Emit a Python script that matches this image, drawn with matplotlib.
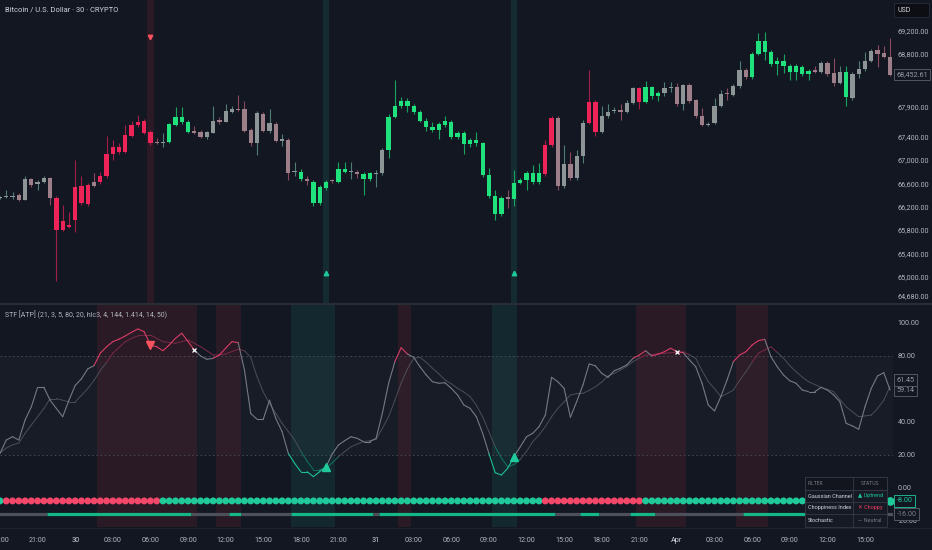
import numpy as np
import pandas as pd
import matplotlib
matplotlib.use("Agg")
import matplotlib.pyplot as plt
from matplotlib.collections import LineCollection
from matplotlib.patches import Rectangle
import matplotlib.transforms as mtransforms

plt.rcParams['font.family'] = ['Roboto', 'DejaVu Sans']

# ---------------- data ----------------
symbol_title = "Bitcoin / U.S. Dollar · 30 · CRYPTO"
indicator_title = "STF [ATP] (21, 3, 5, 80, 20, hlc3, 4, 144, 1.414, 14, 50)"
currency = "USD"
start_time = "2024-03-29 18:00"

opens = [
    66339, 66356, 66356, 66390, 66313, 66671, 66581, 66615, 66688, 66352, 65955, 65887,
    66540, 66552, 66569, 66620, 66722, 67098, 67212, 67222, 67422, 67592, 67648, 67660,
    67478, 67294, 67280, 67297, 67592, 67638, 67648, 67495, 67478, 67393, 67461, 67677,
    67648, 67819, 67865, 67860, 67507, 67280, 67780, 67495, 67609, 67324, 67336, 66786,
    66796, 66671, 66625, 66267, 66513, 66646, 66615, 66786, 66786, 66796, 66757, 66671,
    66763, 66769, 67166, 67734, 67916, 68001, 67916, 67809, 67665, 67563, 67507, 67592,
    67648, 67382, 67461, 67268, 67336, 67280, 66740, 66381, 66075, 66359, 66325, 66608,
    66654, 66769, 66615, 66757, 67251, 67706, 66552, 66922, 66683, 67064, 67631, 67989,
    67478, 67745, 67827, 67848, 67819, 67962, 68218, 67989, 68235, 68092, 68132, 68230,
    68245, 67950, 68274, 68018, 67745, 67592, 67621, 67916, 68138, 68104, 68257, 68530,
    68405, 68803, 69030, 68832, 68632, 68683, 68603, 68491, 68586, 68462, 68530, 68501,
    68654, 68474, 68313, 68501, 68047, 68462, 68542, 68688, 68871, 68815, 68757]
highs = [
    66381, 66492, 66450, 66432, 66727, 66688, 66654, 66722, 66705, 66381, 66228, 66109,
    66995, 66722, 66603, 66779, 66791, 67404, 67336, 67285, 67592, 67660, 67763, 67694,
    67507, 67370, 67451, 67626, 67894, 67899, 67677, 67575, 67507, 67490, 67916, 67728,
    67950, 67916, 68104, 68006, 67541, 67831, 67814, 67865, 67643, 67439, 67370, 66961,
    66842, 66722, 66654, 66569, 66654, 66671, 66961, 66966, 66966, 66825, 66791, 66791,
    66825, 67200, 67780, 68359, 68070, 68052, 67950, 67848, 67711, 67643, 67643, 67745,
    67677, 67490, 67490, 67370, 67473, 67302, 66859, 66484, 66381, 66484, 66825, 66688,
    66808, 66910, 66944, 67336, 67745, 67745, 67251, 67132, 67166, 67677, 68530, 68018,
    67916, 67950, 67899, 67950, 68018, 68240, 68240, 68342, 68257, 68172, 68325, 68325,
    68308, 68291, 68308, 68035, 67882, 67643, 68052, 68189, 68223, 68291, 68683, 68564,
    68837, 69156, 69183, 68871, 68751, 68803, 68632, 68632, 68615, 68547, 68598, 68683,
    68683, 68734, 68598, 68598, 68496, 68683, 68837, 68888, 68956, 68939, 69081]
lows = [
    66330, 66347, 66330, 66296, 66305, 66535, 66484, 66603, 66228, 64937, 65785, 65836,
    65773, 66228, 66211, 66535, 66586, 66688, 66995, 67098, 67115, 67387, 67558, 67439,
    67251, 67268, 67212, 67285, 67575, 67609, 67456, 67439, 67370, 67353, 67456, 67609,
    67643, 67797, 67831, 67473, 67234, 67081, 67473, 67456, 67302, 67234, 66654, 66722,
    66637, 66569, 66211, 66228, 66484, 66603, 66603, 66774, 66666, 66688, 66399, 66637,
    66530, 66740, 67029, 67711, 67882, 67814, 67780, 67643, 67490, 67473, 67353, 67558,
    67353, 67353, 67098, 67217, 67234, 66705, 66347, 65972, 66040, 66177, 66211, 66586,
    66484, 66586, 66586, 66722, 67217, 66484, 66518, 66654, 66654, 66944, 67609, 67404,
    67456, 67711, 67797, 67677, 67797, 67950, 67865, 67967, 68035, 68001, 68087, 68155,
    67916, 67848, 67967, 67711, 67575, 67575, 67609, 67899, 68018, 68087, 68223, 68376,
    68376, 68786, 68700, 68598, 68445, 68479, 68359, 68359, 68428, 68359, 68479, 68479,
    68428, 68257, 68291, 67916, 68018, 68393, 68513, 68666, 68581, 68734, 68428]
closes = [
    66364, 66381, 66373, 66313, 66671, 66569, 66615, 66683, 66347, 65802, 65802, 65853,
    65972, 66257, 66245, 66557, 66615, 66722, 67098, 67127, 67137, 67410, 67592, 67461,
    67280, 67277, 67307, 67604, 67734, 67734, 67478, 67461, 67393, 67468, 67660, 67648,
    67831, 67865, 67848, 67495, 67280, 67792, 67495, 67621, 67324, 67348, 66779, 66813,
    66671, 66637, 66267, 66530, 66625, 66629, 66837, 66837, 66808, 66752, 66671, 66769,
    66774, 67166, 67734, 67916, 68001, 67916, 67809, 67665, 67563, 67507, 67604, 67660,
    67382, 67461, 67268, 67336, 67280, 66740, 66381, 66075, 66342, 66335, 66608, 66654,
    66769, 66615, 66769, 67251, 67706, 66552, 66922, 66683, 67064, 67631, 67989, 67478,
    67745, 67819, 67841, 67819, 67972, 68218, 67989, 68235, 68087, 68132, 68228, 68240,
    67950, 68274, 68001, 67745, 67592, 67609, 67916, 68121, 68127, 68257, 68530, 68405,
    68803, 69030, 68842, 68632, 68683, 68598, 68501, 68603, 68462, 68518, 68501, 68654,
    68462, 68313, 68501, 68064, 68462, 68542, 68688, 68859, 68803, 68757, 68452.61]
# G strong up, R strong down, u neutral up, d neutral down
candle_state = ("uuududuudRRR" "RRRdRRRRRRRR" "RduGGGGdduud" "uudddududu du".replace(" ", "") +
                "GdGGGdGGudGG" "uuGGGGGGGGGG" "GGGGGGGGGdGG" "GGGRRduduuRR" "uuuduuRGGGuu" +
                "duddduuuduud" "GGGGGGGGGGdu" "dduGuuuuddd")

stoch_k = [
    20.8, 28.9, 30.9, 28.9, 41, 49, 60.8, 60.8, 53, 48, 43, 53,
    62, 66, 72, 74, 81.5, 85.4, 88.5, 90, 92, 94.2, 96.2, 94.5,
    86.5, 85.4, 83, 86.5, 90.5, 93.6, 88.5, 83.5, 79.8, 77.8, 78.4, 80.4,
    84.5, 88.5, 87.9, 71.3, 45, 41.5, 41.5, 53, 42, 34, 20.8, 14.8,
    9.7, 9.7, 6.7, 9.7, 12.7, 20.4, 25.9, 28.5, 30.9, 29.9, 27.9, 27.9,
    29.9, 45, 63.3, 76.4, 84.8, 81, 79, 73.3, 68.3, 64.2, 63.3, 63.6,
    60.2, 56.2, 50.1, 48.1, 43, 33, 20.8, 9.1, 7.7, 11.8, 18.8, 24.8,
    30.9, 33, 37, 44, 66.9, 64.2, 60.2, 42.7, 52.1, 62.2, 75, 73.8,
    69.3, 66.9, 70.9, 72.4, 74.4, 78.4, 80.4, 83, 79.8, 81, 82.4, 84.5,
    82.4, 81.8, 77.4, 73.3, 63.3, 50.1, 46.5, 55.2, 65.3, 76.4, 80.4, 82.4,
    86.5, 89.1, 89.9, 79.4, 73.3, 68.3, 64.8, 63.3, 59.2, 58.2, 58.2, 60.8,
    59.2, 56.2, 52.1, 39, 37.4, 35.4, 49, 60.2, 67.7, 69.7, 59.14]
stoch_d = [
    21, 24, 26, 27, 33, 38, 43, 48, 54, 54, 53, 52,
    52, 56, 60, 65, 71, 76, 81.5, 85, 88.5, 90.5, 92, 92.5,
    92.5, 90.5, 88.5, 88, 87.5, 88.5, 89.5, 87.5, 85.4, 83, 80.4, 80.5,
    81, 82.5, 83.9, 83, 79, 67.3, 58, 51, 45, 39, 34, 29,
    22, 16, 11, 11, 12, 15, 18.8, 22, 24.8, 26.5, 27.9, 28.5,
    29.3, 36, 43, 53, 63.3, 72, 78.4, 79, 76, 72.4, 69, 65.3,
    63, 60.2, 58, 55.2, 50, 43, 34, 24.8, 18, 12.7, 14, 17.2,
    22, 27.9, 32, 37, 43, 48.1, 52, 56.2, 57, 57.2, 59, 61.2,
    64, 67.7, 69.3, 71.3, 73.5, 76.4, 78.5, 80.4, 80.7, 81, 81.4, 81.8,
    82.1, 82.4, 80.5, 78.4, 71, 64.2, 60, 55.2, 57, 59.2, 65, 70.3,
    76, 81.5, 83.5, 85.4, 82, 78.4, 74, 70.3, 67, 64.2, 62.5, 60.8,
    59.5, 58.2, 53.5, 49, 46, 43, 43.5, 44, 48, 53, 61.45]

trend_state = ("GRRRRRRRRRRR" "RRRRRRRRRRRR" "RRGGGGGGGGGG" "GGGGGGGGGGGG" "GGGGGGGGGGGG" +
               "GGGGGGGGGGGG" "GGGGGGGGGGGG" "GGGRRRRRRRRR" "RRRRRRRGGGGG" "GGGGGGGGGGGG" +
               "GGGGGGGGGGGG" "GGGGGGGGGGG")
filter_state = ("NNNNNNNNTTTT" "TTTTTTTTTTTT" "TTTTTTTNNNNN" "NTTNNNNNNNNT" "TTTTTTTTTTTT" +
                "NTTTTTTTTTTT" "TTTTTTTTTTTT" "TTTTTNNNNTTT" "NNNNNTTTTNNN" "NNNNNNNNNNNT" +
                "TTTTTTTTTTTT" "TTTTTTTTNNN")

ob_zones = [(16, 31), (35, 38), (64, 65), (102, 109), (118, 122)]
os_zones = [(47, 53), (79, 82)]
sell_signals = [24]
buy_signals = [52, 82]
exit_signals = [31, 108]

price_ticks = [69200, 68800, 67900, 67400, 67000, 66600, 66200, 65800, 65400, 65000, 64680]
osc_ticks = [100, 80, 40, 20, 0, -20]
ob_level, os_level = 80, 20
dot_level, bar_level = -8, -16

table_header = ("FILTER", "STATUS")
table_rows = [("Gaussian Channel", "▲ Uptrend", "up"),
              ("Choppiness Index", "✕ Choppy", "down"),
              ("Stochastic", "— Neutral", "flat")]

# ---------------- style ----------------
BG = '#131722'
TXT = '#b2b5be'
GRN = '#1fc99a'
PINK = '#f23d5e'
body_col = {'G': '#20e27d', 'R': '#ee2459', 'u': '#8e9597', 'd': '#9c7f89'}
wick_col = {'G': '#17a45e', 'R': '#a31d47', 'u': '#4f7d76', 'd': '#8a4a5e'}

W, H = 932, 550
fig = plt.figure(figsize=(W / 100, H / 100), dpi=100)
fig.patch.set_facecolor(BG)

plot_w = 893
ax1 = fig.add_axes([0, 1 - 303 / H, plot_w / W, 303 / H])
ax2 = fig.add_axes([0, 1 - 527 / H, plot_w / W, 222 / H])
for ax in (ax1, ax2):
    ax.set_facecolor(BG)
    for s in ax.spines.values():
        s.set_visible(False)

n = len(closes)
x = np.arange(n)
o = np.array(opens, float); hi = np.array(highs, float)
lo = np.array(lows, float); c = np.array(closes, float)
xmax = plot_w / 6.268

# ---- price pane ----
ax1.set_xlim(0, xmax)
ax1.set_ylim(64557, 69723)
for i in sell_signals:
    ax1.axvspan(i - 0.5, i + 0.5, color='#f23645', alpha=0.11, lw=0, zorder=0)
for i in buy_signals:
    ax1.axvspan(i - 0.5, i + 0.5, color='#22ab94', alpha=0.14, lw=0, zorder=0)
ax1.vlines(x, lo, hi, colors=[wick_col[s] for s in candle_state], lw=0.8, zorder=2)
body_lo = np.minimum(o, c)
body_h = np.maximum(np.abs(c - o), 14)
ax1.bar(x, body_h, bottom=body_lo, width=0.68, color=[body_col[s] for s in candle_state],
        linewidth=0, zorder=3)
tr1 = mtransforms.blended_transform_factory(ax1.transData, ax1.transAxes)
ax1.plot(sell_signals, [0.878] * len(sell_signals), 'v', color='#f7525f', ms=3.2,
         transform=tr1, zorder=4)
ax1.plot(buy_signals, [0.099] * len(buy_signals), '^', color=GRN, ms=3.2,
         transform=tr1, zorder=4)
ax1.yaxis.tick_right()
ax1.set_yticks(price_ticks)
ax1.set_yticklabels([f"{v:,.2f}" for v in price_ticks])
ax1.tick_params(axis='y', length=0, pad=3.5, labelsize=5.2, labelcolor=TXT)
ax1.tick_params(axis='x', length=0, labelbottom=False)
trp = mtransforms.blended_transform_factory(ax1.transAxes, ax1.transData)
ax1.text(1.004, c[-1], f"{c[-1]:,.2f}", transform=trp, fontsize=5.2, color='#9598a1',
         va='center', ha='left', clip_on=False, zorder=6,
         bbox=dict(boxstyle='square,pad=0.3', fc=BG, ec='#5d606b', lw=0.6))

# ---- oscillator pane ----
ax2.set_xlim(0, xmax)
ax2.set_ylim(-23.8, 110.7)
ax2.axhspan(os_level, ob_level, color='#787b86', alpha=0.05, lw=0, zorder=0)
for a, b in ob_zones:
    ax2.axvspan(a - 0.5, b + 0.5, color='#f23645', alpha=0.10, lw=0, zorder=0)
for a, b in os_zones:
    ax2.axvspan(a - 0.5, b + 0.5, color='#22ab94', alpha=0.12, lw=0, zorder=0)
for lvl in (ob_level, os_level):
    ax2.axhline(lvl, color='#4a4e5a', lw=0.6, ls=(0, (2, 3)), zorder=1)


def colored_line(vals, base, up, dn, lw, z):
    v = np.array(vals, float)
    pts = np.column_stack([x, v])
    segs = np.stack([pts[:-1], pts[1:]], axis=1)
    cols = [up if e > ob_level else dn if e < os_level else base for e in v[1:]]
    ax2.add_collection(LineCollection(segs, colors=cols, linewidths=lw,
                                      capstyle='round', joinstyle='round', zorder=z))


colored_line(stoch_d, '#4b4e59', '#7a2a47', '#137564', 0.7, 2)
colored_line(stoch_k, '#767984', '#d83c66', '#1fbf94', 0.8, 3)

k_arr = np.array(stoch_k)
ax2.plot(sell_signals, k_arr[sell_signals], 'v', color='#f7525f', ms=5.5, zorder=5)
ax2.plot(buy_signals, k_arr[buy_signals], '^', color=GRN, ms=5.5, zorder=5)
ax2.plot(exit_signals, k_arr[exit_signals], 'x', color='white', ms=3.5, mew=0.9, zorder=5)

dot_cols = [GRN if s == 'G' else '#f4476a' for s in trend_state]
ax2.scatter(x, [dot_level] * n, c=dot_cols, s=25, linewidths=0, zorder=4)
ax2.scatter([x[-1]], [dot_level], c=[dot_cols[-1]], s=38, linewidths=0, zorder=4, clip_on=False)

# filter bar: merge consecutive equal states into continuous runs
runs = []
start = 0
for i in range(1, n + 1):
    if i == n or filter_state[i] != filter_state[start]:
        runs.append((start, i - 1, filter_state[start]))
        start = i
bsegs = [[(a - 0.5, bar_level), (b + 0.5, bar_level)] for a, b, s in runs]
bcols = ['#14b886' if s == 'T' else '#4d505a' for a, b, s in runs]
ax2.add_collection(LineCollection(bsegs, colors=bcols, linewidths=2.3, capstyle='butt', zorder=3))

ax2.yaxis.tick_right()
ax2.set_yticks(osc_ticks)
ax2.set_yticklabels([f"{v:.2f}" for v in osc_ticks])
ax2.tick_params(axis='y', length=0, pad=3.5, labelsize=5.2, labelcolor=TXT)

times = pd.date_range(start_time, periods=n, freq='30min')
tick_idx = [i for i, t in enumerate(times) if t.minute == 0 and t.hour % 3 == 0]
tick_lab = []
for i in tick_idx:
    t = times[i]
    if t.hour == 0:
        tick_lab.append(t.strftime('%b') if t.day == 1 else str(t.day))
    else:
        tick_lab.append(t.strftime('%H:%M'))
ax2.set_xticks(tick_idx)
ax2.set_xticklabels(tick_lab)
ax2.tick_params(axis='x', length=0, pad=7.5, labelsize=5.2, labelcolor=TXT)
for lab, t in zip(ax2.get_xticklabels(), [times[i] for i in tick_idx]):
    if t.hour == 0:
        lab.set_color('#d1d4dc')

tro = mtransforms.blended_transform_factory(ax2.transAxes, ax2.transData)
kd_lo = min(stoch_k[-1], stoch_d[-1])
lab_vals = sorted([stoch_k[-1], stoch_d[-1]])
for j, v in enumerate(lab_vals):
    ax2.text(1.004, kd_lo + 6.1 * j, f"{v:.2f}", transform=tro, fontsize=5.2, color='#9598a1',
             va='center', ha='left', clip_on=False, zorder=6,
             bbox=dict(boxstyle='square,pad=0.3', fc=BG, ec='#5d606b', lw=0.6))
ax2.text(1.004, dot_level, f"{dot_level:.2f}", transform=tro, fontsize=5.2, color=GRN,
         va='center', ha='left', clip_on=False, zorder=6,
         bbox=dict(boxstyle='square,pad=0.3', fc=BG, ec=GRN, lw=0.6))
ax2.text(1.004, bar_level, f"{bar_level:.2f}", transform=tro, fontsize=5.2, color='#787b86',
         va='center', ha='left', clip_on=False, zorder=6,
         bbox=dict(boxstyle='square,pad=0.3', fc=BG, ec='#5d606b', lw=0.6))

# ---- overlay (titles, separators, table) ----
ov = fig.add_axes([0, 0, 1, 1], zorder=10)
ov.set_xlim(0, W); ov.set_ylim(H, 0); ov.axis('off'); ov.patch.set_alpha(0)
ov.plot([0, W], [304, 304], color='#2a2e39', lw=1.4)
ov.plot([0, W], [527.5, 527.5], color='#1e222d', lw=0.8)
ov.text(5, 10, symbol_title, fontsize=5.4, color='#d1d4dc', va='center', ha='left')
ov.text(5, 315, indicator_title, fontsize=5.0, color=TXT, va='center', ha='left')
ov.add_patch(Rectangle((894, 3), 35, 14, fc='#0c0e14', ec='#2a2e39', lw=0.6))
ov.text(897.5, 10, currency, fontsize=5.0, color='#d1d4dc', va='center', ha='left')

tx0, tx1, tcol = 805, 887, 853
ty = [477, 490, 502, 514, 527]
ov.add_patch(Rectangle((tx0, ty[0]), tx1 - tx0, ty[-1] - ty[0], fc='#161a25', ec='#363a45', lw=0.6, zorder=1))
ov.add_patch(Rectangle((tx0, ty[0]), tx1 - tx0, ty[1] - ty[0], fc='#12151e', ec='#363a45', lw=0.6, zorder=1))
for yy in ty[1:-1]:
    ov.plot([tx0, tx1], [yy, yy], color='#363a45', lw=0.6, zorder=2)
ov.plot([tcol, tcol], [ty[0], ty[-1]], color='#363a45', lw=0.6, zorder=2)
ov.text(tx0 + 3, (ty[0] + ty[1]) / 2, table_header[0], fontsize=3.6, color='#787b86', va='center', ha='left', zorder=3)
ov.text((tcol + tx1) / 2, (ty[0] + ty[1]) / 2, table_header[1], fontsize=3.6, color='#787b86', va='center', ha='center', zorder=3)
stat_col = {'up': GRN, 'down': PINK, 'flat': '#787b86'}
for r, (name, status, kind) in enumerate(table_rows):
    yc = (ty[r + 1] + ty[r + 2]) / 2
    ov.text(tx0 + 3, yc, name, fontsize=4.0, color='#d1d4dc', va='center', ha='left', zorder=3)
    ov.text((tcol + tx1) / 2, yc, status, fontsize=4.0, color=stat_col[kind], va='center',
            ha='center', zorder=3, family=['Roboto', 'DejaVu Sans'])

fig.savefig('out.png', dpi=100, facecolor=BG)
